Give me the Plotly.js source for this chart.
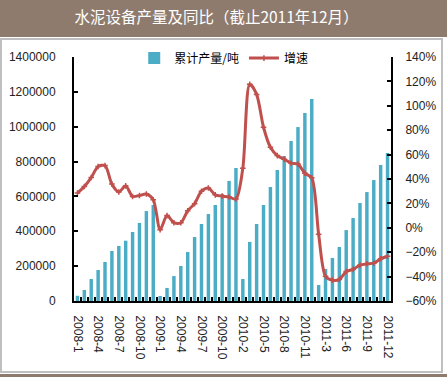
<!DOCTYPE html>
<html>
<head>
<meta charset="utf-8">
<script src="https://cdn.plot.ly/plotly-3.0.1.min.js"></script>
<style>
  html, body { margin: 0; padding: 0; background: #ffffff; }
  #wrap { position: relative; width: 447px; height: 377px; overflow: hidden; background: #ffffff; }
  #band { position: absolute; left: 0; top: 0; width: 447px; height: 37px; background: #8E7B6E; }
  #frame { position: absolute; left: 0px; top: 38px; width: 439px; height: 331px; border: 2px solid #BFBFBF; }
  #foot { position: absolute; left: 0; top: 374px; width: 447px; height: 3px; background: #8E7B6E; }
  #chart { position: absolute; left: 0; top: 0; width: 447px; height: 377px; }
</style>
</head>
<body>
<div id="wrap">
  <div id="band"></div>
  <div id="frame"></div>
  <div id="foot"></div>
  <div id="chart"></div>
</div>
<script>
// Categories (months; Jan is merged into Feb in 2010 and 2011)
const categories = [
  '2008-1','2008-2','2008-3','2008-4','2008-5','2008-6','2008-7','2008-8','2008-9','2008-10','2008-11','2008-12',
  '2009-1','2009-2','2009-3','2009-4','2009-5','2009-6','2009-7','2009-8','2009-9','2009-10','2009-11','2009-12',
  '2010-2','2010-3','2010-4','2010-5','2010-6','2010-7','2010-8','2010-9','2010-10','2010-11','2010-12',
  '2011-2','2011-3','2011-4','2011-5','2011-6','2011-7','2011-8','2011-9','2011-10','2011-11','2011-12'
];
// Cumulative output (tons)
const output = [
  30000, 63000, 126000, 178000, 224000, 287000, 316000, 346000, 396000, 448000, 516000, 551000,
  29000, 75000, 143000, 201000, 281000, 367000, 442000, 499000, 551000, 614000, 689000, 763000,
  126000, 339000, 442000, 551000, 654000, 752000, 832000, 918000, 998000, 1079000, 1159000,
  92000, 184000, 247000, 310000, 407000, 476000, 562000, 625000, 694000, 780000, 849000
];
// Year-on-year growth (%)
const growth = [
  28.5, 33.9, 41.2, 50.2, 51, 35.8, 29.3, 34.4, 25.7, 26.5, 27.7, 23,
  -1.5, 10, 4.2, 4.2, 14, 19.8, 30, 32.6, 27, 26, 25.2, 23.6,
  48.9, 117.7, 109.3, 82.4, 66, 59.2, 56.2, 53, 52.2, 44.8, 41,
  -5.3, -39.8, -42.9, -42.3, -35.8, -34.1, -30.6, -29.5, -29, -25.4, -23.3
];
// Tick labels shown on the x axis
const xLabels = ['2008-1','2008-4','2008-7','2008-10','2009-1','2009-4','2009-7','2009-10',
  '2010-2','2010-5','2010-8','2010-11','2011-3','2011-6','2011-9','2011-12'];
const seriesNames = ['累计产量/吨', '增速'];
const titleText = '水泥设备产量及同比（截止2011年12月）';

const tickFont = { family: 'Liberation Sans, Arial, sans-serif', size: 12, color: '#222222' };

const traces = [
  {
    type: 'bar', x: categories, y: output, name: seriesNames[0],
    marker: { color: '#4BACC6' }, yaxis: 'y'
  },
  {
    type: 'scatter', mode: 'lines+markers', x: categories, y: growth, name: seriesNames[1],
    yaxis: 'y2',
    line: { color: '#C0504D', width: 3, shape: 'spline', smoothing: 0.8 },
    marker: { symbol: 'cross-thin', size: 4, color: '#C0504D', line: { color: '#C0504D', width: 1.5 } }
  }
];

const layout = {
  width: 447, height: 377,
  paper_bgcolor: 'rgba(0,0,0,0)', plot_bgcolor: 'rgba(0,0,0,0)',
  margin: { l: 74, r: 56, t: 57, b: 76, pad: 0 },
  title: {
    text: titleText,
    font: { family: 'Noto Sans CJK SC, sans-serif', size: 15.5, color: '#ffffff' },
    x: 0.4843, xanchor: 'center', xref: 'container',
    y: 1 - 18 / 377, yanchor: 'middle', yref: 'container'
  },
  bargap: 0.5,
  showlegend: true,
  legend: {
    orientation: 'h', x: 0.19, xanchor: 'left', y: 1.055, yanchor: 'top',
    font: { family: 'Noto Sans CJK SC, sans-serif', size: 12, color: '#000000' },
    bgcolor: 'rgba(0,0,0,0)', itemwidth: 30, tracegroupgap: 0
  },
  xaxis: {
    type: 'category', categoryorder: 'array', categoryarray: categories,
    range: [-0.5, categories.length - 0.5],
    tickvals: categories,
    ticktext: categories.map(c => xLabels.includes(c) ? c : ''),
    tickangle: 90, tickson: 'boundaries',
    ticks: 'inside', ticklen: 4, tickwidth: 2, tickcolor: '#000000',
    showline: true, linecolor: '#000000', linewidth: 2,
    showgrid: false, zeroline: false,
    tickfont: tickFont, ticklabelstandoff: 10
  },
  yaxis: {
    range: [0, 1400000], dtick: 200000, tick0: 0,
    tickformat: 'd',
    ticks: 'inside', ticklen: 4, tickwidth: 2, tickcolor: '#000000',
    showline: true, linecolor: '#000000', linewidth: 2,
    showgrid: false, zeroline: false,
    tickfont: tickFont, ticklabelstandoff: 14
  },
  yaxis2: {
    overlaying: 'y', side: 'right',
    range: [-60, 140], dtick: 20, tick0: 0, ticksuffix: '%',
    ticks: 'inside', ticklen: 4, tickwidth: 2, tickcolor: '#000000',
    showline: true, linecolor: '#000000', linewidth: 2,
    showgrid: false, zeroline: false,
    tickfont: tickFont, ticklabelstandoff: 10
  }
};

Plotly.newPlot('chart', traces, layout, { displayModeBar: false, staticPlot: true });
</script>
</body>
</html>
